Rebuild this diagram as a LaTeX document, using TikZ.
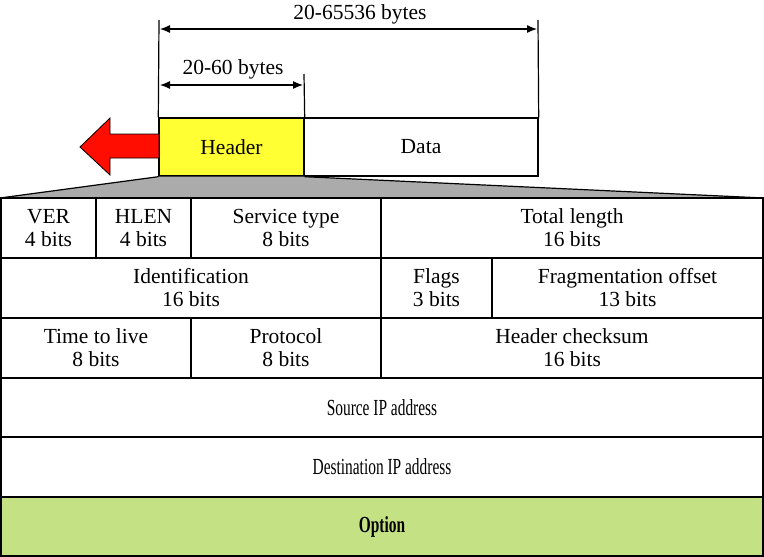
\documentclass[tikz,border=0pt]{standalone}
\usepackage{fontspec}
\setmainfont{Liberation Serif}
\usepackage{graphicx}
\usetikzlibrary{arrows.meta}
\definecolor{hdryellow}{HTML}{FFFF33}
\definecolor{arrred}{HTML}{FF0D00}
\definecolor{optgreen}{HTML}{C4E184}
\definecolor{fangray}{HTML}{ABABAB}
\newcommand{\condensed}[1]{\scalebox{0.67}[1]{\fontsize{23}{25}\selectfont #1}}
\begin{document}
\begin{tikzpicture}[x=1pt,y=1pt,
  txt/.style={font=\fontsize{21.5}{23}\selectfont, align=center, inner sep=0pt},
  cell/.style={txt, draw=black, line width=1.6pt, minimum height=60pt},
  dim/.style={line width=1.2pt, {Latex[length=10pt,width=8pt]}-{Latex[length=10pt,width=8pt]}},
  guide/.style={line width=1.2pt}]
\useasboundingbox (0,0) rectangle (764,-557);
% header / data
\node[cell, fill=hdryellow, minimum width=145pt, minimum height=58pt, line width=1.4pt] (header) at (231.5,-147) {Header};
\node[cell, minimum width=234pt, minimum height=58pt, line width=1.4pt] (data) at (421,-147) {Data};
% guide lines
\coordinate (gl) at (159,-20);
\coordinate (gr) at (538,-20);
\coordinate (gm) at (304,-74);
\draw[guide] (gl) -- (header.north west);
\draw[guide] (gr) -- (data.north east);
\draw[guide] (gm) -- (header.north east);
% dimension arrows
\coordinate (a1l) at (160,-29);
\coordinate (a1r) at (537,-29);
\coordinate (a2l) at (160,-85);
\coordinate (a2r) at (303,-85);
\draw[dim] (a1l) -- (a1r);
\draw[dim] (a2l) -- (a2r);
\node[txt] (lbl1) at (360,-14) {20-65536 bytes};
\node[txt] (lbl2) at (233,-69) {20-60 bytes};
% red arrow
\draw[fill=arrred, line width=0.8pt] (80,-147) -- (110,-118) -- (110,-134) -- (159,-134) -- (159,-158) -- (110,-158) -- (110,-175) -- cycle;
% fan
\coordinate (tl) at (0,-198);
\coordinate (tr) at (764,-198);
\fill[fangray] (header.south west) -- (header.south east) -- (tr) -- (tl) -- cycle;
\draw[line width=1.2pt] (header.south west) -- (tl);
\draw[line width=1.2pt] (header.south east) -- (tr);
% row 1
\node[cell, minimum width=95pt] (ver) at (48.5,-228) {VER\\4 bits};
\node[cell, minimum width=95pt] (hlen) at (143.5,-228) {HLEN\\4 bits};
\node[cell, minimum width=190pt] (stype) at (286,-228) {Service type\\8 bits};
\node[cell, minimum width=382pt] (tlen) at (572,-228) {Total length\\16 bits};
% row 2
\node[cell, minimum width=380pt] (ident) at (191,-288) {Identification\\16 bits};
\node[cell, minimum width=111pt] (flags) at (436.5,-288) {Flags\\3 bits};
\node[cell, minimum width=271pt] (frag) at (627.5,-288) {Fragmentation offset\\13 bits};
% row 3
\node[cell, minimum width=190pt] (ttl) at (96,-348) {Time to live\\8 bits};
\node[cell, minimum width=190pt] (proto) at (286,-348) {Protocol\\8 bits};
\node[cell, minimum width=382pt] (chk) at (572,-348) {Header checksum\\16 bits};
% rows 4-6
\node[cell, minimum width=762pt, minimum height=59pt] (src) at (382,-407.5) {\condensed{Source IP address}};
\node[cell, minimum width=762pt] (dst) at (382,-467) {\condensed{Destination IP address}};
\node[cell, minimum width=762pt, minimum height=59pt, fill=optgreen] (opt) at (382,-526.5) {\condensed{\bfseries Option}};
\end{tikzpicture}
\end{document}
